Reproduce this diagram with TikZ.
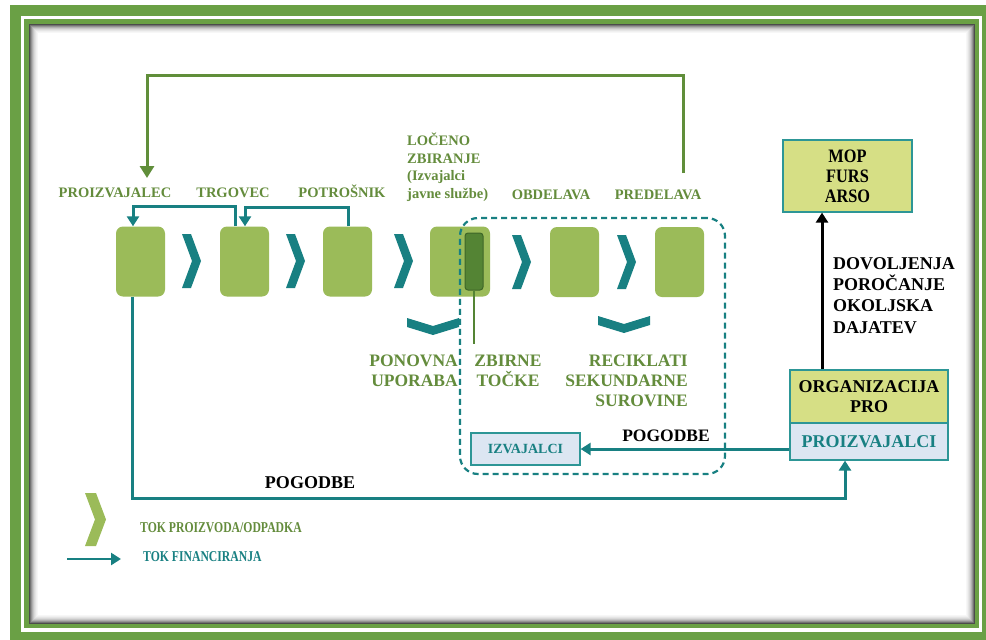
\documentclass[tikz,border=0pt]{standalone}
\usepackage{fontspec}
\setmainfont{Liberation Serif}
\usepackage{graphicx}
\usetikzlibrary{arrows.meta}
\definecolor{framegreen}{RGB}{106,160,69}
\definecolor{boxgreen}{RGB}{155,187,89}
\definecolor{darkbar}{RGB}{84,132,52}
\definecolor{darkbaredge}{RGB}{62,102,40}
\definecolor{tealc}{RGB}{24,128,130}
\definecolor{lblgreen}{RGB}{100,140,60}
\definecolor{fbgreen}{RGB}{96,142,58}
\definecolor{mopfill}{RGB}{214,223,133}
\definecolor{lightblue}{RGB}{220,230,242}
\definecolor{boxedge}{RGB}{45,150,150}
\tikzset{
  chevr/.pic={\fill[tealc] (0,0) -- (9,0) -- (19,27) -- (9,54) -- (0,54) -- (10,27) -- cycle;},
  chevd/.pic={\fill[tealc] (0,0) -- (26,8) -- (52,0) -- (52,9) -- (26,17) -- (0,9) -- cycle;}
}
\begin{document}
\begin{tikzpicture}[x=1pt,y=-1pt,
  stage/.style={fill=boxgreen, rounded corners=7pt, minimum width=49pt, minimum height=70pt, inner sep=0pt},
  lbl/.style={text=lblgreen, font=\fontsize{14.5}{17.5}\selectfont\bfseries, inner sep=0pt},
  biglbl/.style={text=lblgreen, font=\fontsize{17.5}{20}\selectfont\bfseries, inner sep=0pt},
  blk/.style={text=black, font=\fontsize{18}{21.3}\selectfont\bfseries, inner sep=0pt},
  fin/.style={draw=tealc, line width=3pt, -{Triangle[length=10pt,width=12pt]}},
  fb/.style={draw=fbgreen, line width=3pt, -{Triangle[length=12pt,width=14pt]}},
  blkarrow/.style={draw=black, line width=3pt, -{Triangle[length=10pt,width=12pt]}},
  legtxt/.style={font=\fontsize{15}{17}\selectfont\bfseries, inner sep=0pt, anchor=west}
]
\useasboundingbox (0,0) rectangle (986,640);
% frame
\fill[framegreen] (10,5) rectangle (986,640);
\fill[white] (21,16) rectangle (982,632);
\fill[framegreen] (24,19) rectangle (979,628);
\fill[white] (29,24) rectangle (975,624);
\foreach \d/\c in {0.5/70,1.5/55,2.5/42,3.5/31,4.5/22,5.5/15,6.5/10,7.5/6,8.5/3}{
  \draw[black!\c, line width=1pt] (29+\d,24+\d) rectangle (975-\d,624-\d);
}

% stage boxes
\node[stage] (box1) at (140.5,261.5) {};
\node[stage] (box2) at (244.5,261.5) {};
\node[stage] (box3) at (347.5,261.5) {};
\node[stage, minimum width=60pt] (box4) at (460,261.5) {};
\node[stage] (box5) at (574.5,262) {};
\node[stage] (box6) at (679.5,262) {};
\node[fill=darkbar, draw=darkbaredge, line width=1pt, rounded corners=3pt, minimum width=18pt, minimum height=57pt, inner sep=0pt] (bar) at (474,261.5) {};
\coordinate (zbl) at (474,344);
\draw[darkbar, line width=2.5pt] (bar.south) -- (zbl);

% chevrons
\pic at (182,234) {chevr};
\pic at (286,234) {chevr};
\pic at (394,234) {chevr};
\pic at (512,235) {chevr};
\pic at (617,235) {chevr};
\pic at (407,318) {chevd};
\pic at (598,316) {chevd};

% group dashed
\node[draw=tealc, line width=2.2pt, dash pattern=on 6pt off 4pt, rounded corners=18pt, minimum width=265pt, minimum height=256pt, inner sep=0pt] (grp) at (592.5,346) {};

% labels
\node[lbl, anchor=base] (l1) at (115,197) {PROIZVAJALEC};
\node[lbl, anchor=base] (l2) at (233,197) {TRGOVEC};
\node[lbl, anchor=base] (l3) at (342,197) {POTROŠNIK};
\node[lbl, anchor=north west, align=left] (l4) at (407,133) {LOČENO\\ZBIRANJE\\(Izvajalci\\javne službe)};
\node[lbl, anchor=base] (l5) at (551,199) {OBDELAVA};
\node[lbl, anchor=base] (l6) at (658,199) {PREDELAVA};

\node[biglbl, anchor=north east, align=right] (l7) at (458,355) {PONOVNA\\UPORABA};
\node[biglbl, anchor=north, align=center] (l8) at (508,355) {ZBIRNE\\TOČKE};
\node[biglbl, anchor=north east, align=right] (l9) at (688,355) {RECIKLATI\\SEKUNDARNE\\SUROVINE};

% right boxes
\node[fill=mopfill, draw=boxedge, line width=1.2pt, minimum width=129pt, minimum height=72pt, inner sep=0pt, align=center, font=\fontsize{19}{20}\selectfont\bfseries] (mop) at (847.5,176) {\scalebox{0.86}[1]{MOP}\\\scalebox{0.86}[1]{FURS}\\\scalebox{0.86}[1]{ARSO}};
\node[fill=mopfill, draw=boxedge, line width=1.2pt, minimum width=158pt, minimum height=53pt, inner sep=0pt, align=center, font=\fontsize{18}{20}\selectfont\bfseries] (org) at (869,396.5) {ORGANIZACIJA\\PRO};
\node[fill=lightblue, draw=boxedge, line width=1.2pt, minimum width=158pt, minimum height=37pt, inner sep=0pt, text=tealc, font=\fontsize{18}{20}\selectfont\bfseries] (proiz) at (869,441.5) {PROIZVAJALCI};
\node[fill=lightblue, draw=boxedge, line width=1.2pt, minimum width=109pt, minimum height=32pt, inner sep=0pt, text=tealc, font=\fontsize{14}{16}\selectfont\bfseries] (izv) at (525.5,449) {IZVAJALCI};

\node[blk, anchor=north west, align=left] (dov) at (833,257) {DOVOLJENJA\\POROČANJE\\OKOLJSKA\\DAJATEV};
\node[blk, font=\fontsize{17.5}{20}\selectfont\bfseries] (pog1) at (666,436) {POGODBE};
\node[blk] (pog2) at (310,483) {POGODBE};

% connectors
\coordinate (fbs) at (683,173);
\coordinate (fbe) at (147,178);
\draw[fb] (fbs) |- (147,75) -- (fbe);
\draw[fin] ([xshift=-9.5pt]box2.north) -- ++(0,-19.5) -| ([xshift=-7.5pt]box1.north);
\draw[fin] ([xshift=0.5pt]box3.north) -- ++(0,-18.5) -| ([xshift=0.5pt]box2.north);
\draw[fin] ([xshift=-8.5pt]box1.south) -- ++(0,201.5) -| ([xshift=-24pt]proiz.south);
\draw[fin] (proiz.west |- izv.east) -- (izv.east);
\draw[blkarrow] ([xshift=-47pt]org.north) -- ([xshift=-47pt]org.north |- mop.south);

% legend
\fill[boxgreen] (85,493) -- (96,493) -- (106,519.5) -- (96,546) -- (85,546) -- (95,519.5) -- cycle;
\node[legtxt, text=lblgreen] (leg1) at (140,528) {\scalebox{0.78}[1]{TOK PROIZVODA/ODPADKA}};
\coordinate (la1) at (67,559);
\coordinate (la2) at (121,559);
\draw[fin, line width=2.5pt] (la1) -- (la2);
\node[legtxt, text=tealc] (leg2) at (143,557) {\scalebox{0.78}[1]{TOK FINANCIRANJA}};
\end{tikzpicture}
\end{document}
